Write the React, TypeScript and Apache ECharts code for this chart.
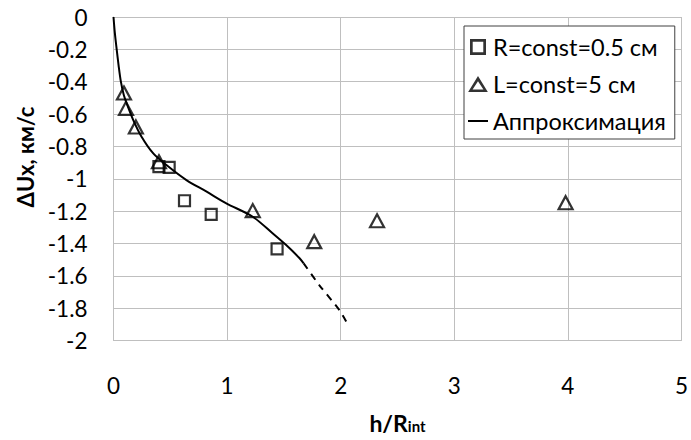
import React, { useEffect, useRef } from "react";
import * as echarts from "echarts";

const squareX = [0.4, 0.49, 0.625, 0.86, 1.44];
const squareY = [-0.925, -0.93, -1.136, -1.22, -1.434];

const triangleX = [0.092, 0.11, 0.197, 0.4, 1.226, 1.767, 2.32, 3.98];
const triangleY = [-0.47, -0.565, -0.68, -0.895, -1.197, -1.389, -1.26, -1.148];

const approxX = [0, 0.012, 0.028, 0.045, 0.065, 0.09, 0.116, 0.174, 0.247, 0.35, 0.466, 0.642, 0.82, 0.993, 1.226, 1.4, 1.52, 1.636, 1.674];
const approxY = [0, -0.1, -0.2, -0.3, -0.4, -0.48, -0.534, -0.637, -0.74, -0.843, -0.915, -1.008, -1.08, -1.152, -1.235, -1.337, -1.41, -1.49, -1.523];

const extrapX = [1.674, 1.811, 1.987, 2.06];
const extrapY = [-1.523, -1.657, -1.811, -1.898];

const seriesNames = ["R=const=0.5 см", "L=const=5 см", "Аппроксимация"];
const yTitle = "ΔUx, км/с";

const zip = (xs: number[], ys: number[]) => xs.map((x, i) => [x, ys[i]]);

const FONT = "Lato";

const ICON_SQUARE = "path://M0 0H13V13H0Z M2.2 2.2V10.8H10.8V2.2Z";
const ICON_TRIANGLE = "path://M8 0L16 13L0 13Z M8 4.3L3.6 11L12.4 11Z";
const ICON_LINE = "path://M0 0H20V2H0Z";

export default function App() {
  const ref = useRef<HTMLDivElement>(null);
  useEffect(() => {
    document.body.style.margin = "0";
    const chart = echarts.init(ref.current!, null, { renderer: "svg" });
    const grid = "#bfbfbf";
    const markerStyle = { color: "transparent", borderColor: "#000", borderWidth: 2.2 };
    const iconStyle = { color: "#000", borderWidth: 0 };
    chart.setOption({
      animation: false,
      backgroundColor: "#fff",
      textStyle: { fontFamily: FONT },
      grid: { left: 113.5, right: 8, top: 17, bottom: 99.5 },
      xAxis: {
        type: "value",
        min: 0,
        max: 5,
        interval: 1,
        axisLine: { show: true, onZero: false, lineStyle: { color: grid, width: 1 } },
        axisTick: { show: false },
        splitLine: { show: true, lineStyle: { color: grid, width: 1 } },
        axisLabel: { fontSize: 22.5, color: "#000", margin: 33, fontFamily: FONT },
        name: "{a|h/R}{b|int}",
        nameLocation: "middle",
        nameGap: 68,
        nameTextStyle: {
          rich: {
            a: { fontSize: 23, fontWeight: "bold", color: "#000", fontFamily: FONT, lineHeight: 26, verticalAlign: "bottom" },
            b: { fontSize: 15, fontWeight: "bold", color: "#000", fontFamily: FONT, lineHeight: 26, verticalAlign: "bottom", padding: [0, 0, 1, 0] },
          },
        },
      },
      yAxis: {
        type: "value",
        min: -2,
        max: 0,
        interval: 0.2,
        axisLine: { show: true, lineStyle: { color: grid, width: 1 } },
        axisTick: { show: false },
        splitLine: { show: true, lineStyle: { color: grid, width: 1 } },
        axisLabel: { fontSize: 22.5, color: "#000", margin: 26, fontFamily: FONT },
      },
      legend: {
        orient: "vertical",
        left: 464,
        top: 26,
        data: [
          { name: seriesNames[0], icon: ICON_SQUARE, itemStyle: iconStyle },
          { name: seriesNames[1], icon: ICON_TRIANGLE, itemStyle: iconStyle },
          { name: seriesNames[2], icon: ICON_LINE, itemStyle: iconStyle },
        ],
        itemWidth: 20,
        itemHeight: 16,
        itemGap: 13,
        itemTextGap: 3,
        padding: [9, 9, 6, 4],
        borderColor: "#404040",
        borderWidth: 1,
        backgroundColor: "#fff",
        textStyle: { fontSize: 23.5, color: "#000", fontFamily: FONT },
      },
      graphic: [
        {
          type: "text",
          x: 25,
          y: 157,
          rotation: Math.PI / 2,
          style: {
            text: yTitle,
            fontSize: 22,
            fontWeight: "bold",
            fontFamily: FONT,
            fill: "#000",
            align: "center",
            verticalAlign: "middle",
          },
        },
      ],
      series: [
        {
          name: seriesNames[2],
          type: "line",
          data: zip(approxX, approxY),
          showSymbol: false,
          symbol: "none",
          smooth: 0.3,
          lineStyle: { color: "#000", width: 2 },
          itemStyle: { color: "#000" },
          z: 2,
        },
        {
          name: "extrap",
          type: "line",
          data: zip(extrapX, extrapY),
          showSymbol: false,
          symbol: "none",
          smooth: 0.3,
          lineStyle: { color: "#000", width: 2, type: [7, 6] },
          z: 2,
        },
        {
          name: seriesNames[0],
          type: "scatter",
          data: zip(squareX, squareY),
          symbol: "rect",
          symbolSize: 11,
          itemStyle: markerStyle,
          z: 3,
        },
        {
          name: seriesNames[1],
          type: "scatter",
          data: zip(triangleX, triangleY),
          symbol: "triangle",
          symbolSize: [14, 13],
          itemStyle: markerStyle,
          z: 3,
        },
      ],
    });
    return () => chart.dispose();
  }, []);
  return <div ref={ref} style={{ width: 691, height: 440 }} />;
}
